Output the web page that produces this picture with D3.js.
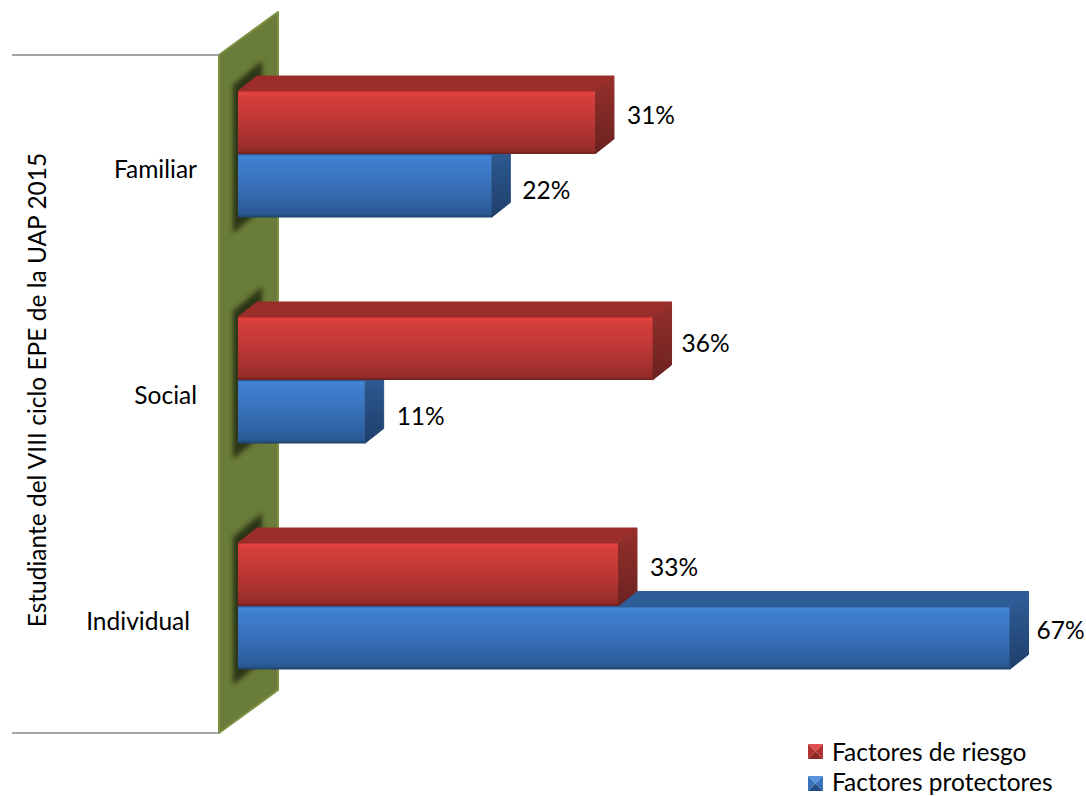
<!DOCTYPE html>
<html lang="es">
<head>
<meta charset="utf-8">
<script src="https://cdn.jsdelivr.net/npm/d3@7/dist/d3.min.js"></script>
<style>
html,body{margin:0;padding:0;background:#fff}
svg{display:block}
text{font-family:Lato,"Open Sans",sans-serif;fill:#000}
</style>
</head>
<body>
<svg id="chart" width="1086" height="796"></svg>
<script>
// Chart data
const categories = ["Familiar", "Social", "Individual"];
const riesgo = [31, 36, 33];
const protectores = [22, 11, 67];
const seriesNames = ["Factores de riesgo", "Factores protectores"];
const axisTitle = "Estudiante del VIII ciclo EPE de la UAP 2015";

const svg = d3.select("#chart");
const defs = svg.append("defs");
const fontSize = "24.5px";

// 3D projection of the depth axis
const depthX = 19, depthY = 15;
const wallDepthX = 59, wallDepthY = 43;

const x = d3.scaleLinear().domain([0, 67]).range([238, 1009.5]);
const y = d3.scaleBand().domain(categories).range([55, 733]);
const inner = d3.scaleBand().domain(seriesNames).range([36, 163]);

function linear(id, stops) {
  const g = defs.append("linearGradient").attr("id", id)
    .attr("x1", 0).attr("x2", 0).attr("y1", 0).attr("y2", 1);
  stops.forEach(s => g.append("stop").attr("offset", s[0]).attr("stop-color", s[1]));
}
linear("redFront", [[0, "#b03331"], [0.03, "#e8433f"], [0.09, "#d53e3a"], [0.3, "#ca3b38"], [0.75, "#a83230"], [0.95, "#932b29"], [1, "#6d1f1e"]]);
linear("blueFront", [[0, "#2f5f9c"], [0.03, "#4387d8"], [0.09, "#3f7fce"], [0.35, "#3b76c2"], [0.8, "#2f62a3"], [0.95, "#2a5790"], [1, "#1e4068"]]);
linear("redSide", [[0, "#96302c"], [1, "#6b2220"]]);
linear("blueSide", [[0, "#2f5f99"], [1, "#1f3f6b"]]);

defs.append("filter").attr("id", "soft").attr("x", "-60%").attr("y", "-20%").attr("width", "220%").attr("height", "140%")
  .append("feGaussianBlur").attr("stdDeviation", 2.6);

const palette = {
  [seriesNames[0]]: {front: "url(#redFront)", side: "url(#redSide)", top: "#9b2d2a"},
  [seriesNames[1]]: {front: "url(#blueFront)", side: "url(#blueSide)", top: "#2e5d97"}
};

const line = d3.line().curve(d3.curveLinearClosed);

// Back wall of the plot
const [wallTop, wallBottom] = y.range();
const wallLeft = 219, wallRight = wallLeft + wallDepthX;
const wallShape = [
  [wallLeft, wallTop], [wallRight, wallTop - wallDepthY],
  [wallRight, wallBottom - wallDepthY], [wallLeft, wallBottom]
];
defs.append("clipPath").attr("id", "wallClip").append("path").attr("d", line(wallShape));
svg.append("path").attr("d", line(wallShape))
  .attr("fill", "#6a7c39").attr("stroke", "#7c9240").attr("stroke-width", 2).attr("stroke-linejoin", "round");

// Gridlines at both ends of the category axis
svg.selectAll("line.grid").data(y.range()).join("line").attr("class", "grid")
  .attr("x1", 12).attr("x2", wallLeft).attr("y1", d => d).attr("y2", d => d)
  .attr("stroke", "#868686").attr("stroke-width", 1.4);

// Soft shadow each bar group casts on the wall
const shadows = svg.append("g").attr("clip-path", "url(#wallClip)");
categories.forEach(c => {
  const t = y(c) + 30, b = y(c) + 178;
  shadows.append("path")
    .attr("d", line([[233, t], [262, t - 24], [262, b - 24], [233, b]]))
    .attr("fill", "#2a3614").attr("filter", "url(#soft)");
});

// One bar drawn as front, top and side faces
function drawBar(g, category, series, value) {
  const p = palette[series];
  const x0 = x(0), x1 = x(value);
  const y0 = y(category) + inner(series), y1 = y0 + inner.bandwidth() - 0.5;
  const b = g.append("g").attr("class", "bar");
  b.append("path").attr("fill", p.top).attr("stroke", p.top).attr("stroke-width", 1).attr("stroke-linejoin", "round")
    .attr("d", line([[x0, y0], [x0 + depthX, y0 - depthY], [x1 + depthX, y0 - depthY], [x1, y0]]));
  b.append("path").attr("fill", p.side).attr("stroke", p.side).attr("stroke-width", 1).attr("stroke-linejoin", "round")
    .attr("d", line([[x1, y0], [x1 + depthX, y0 - depthY], [x1 + depthX, y1 - depthY], [x1, y1]]));
  b.append("rect").attr("x", x0).attr("y", y0).attr("width", x1 - x0).attr("height", y1 - y0)
    .attr("fill", p.front).attr("rx", 1.5);
}

const bars = svg.append("g");
categories.forEach((c, i) => {
  drawBar(bars, c, seriesNames[1], protectores[i]);
  drawBar(bars, c, seriesNames[0], riesgo[i]);
});

// Value labels beside the bars
const labels = svg.append("g").style("font-size", fontSize);
const labelNudge = {
  [seriesNames[0]]: [[32, -8], [29, -6], [32, -8]],
  [seriesNames[1]]: [[31, 3], [32, 3], [27, -9]]
};
[[seriesNames[0], riesgo], [seriesNames[1], protectores]].forEach(([name, vals]) => {
  vals.forEach((v, i) => {
    const c = categories[i];
    const n = labelNudge[name][i];
    labels.append("text")
      .attr("x", x(v) + n[0])
      .attr("y", y(c) + inner(name) + inner.bandwidth() / 2 + n[1])
      .attr("dominant-baseline", "central")
      .text(v + "%");
  });
});

// Category labels from the band scale
const axis = svg.append("g").attr("transform", "translate(197,2)")
  .call(d3.axisLeft(y).tickSize(0).tickPadding(0));
axis.select(".domain").remove();
axis.selectAll("text").style("font-size", fontSize).style("font-family", "Lato")
  .attr("fill", "#000")
  .attr("dx", d => d === "Individual" ? -7 : 0);

// Rotated axis title
svg.append("text")
  .attr("transform", "translate(36,390) rotate(-90)")
  .attr("text-anchor", "middle").attr("dominant-baseline", "central")
  .style("font-size", fontSize).text(axisTitle);

// Legend with bevelled swatches
const legendColors = {
  [seriesNames[0]]: ["#e0504c", "#b03331", "#8c2826"],
  [seriesNames[1]]: ["#5593de", "#3a72b8", "#234d85"]
};
const legend = svg.append("g");
seriesNames.forEach((name, i) => {
  const g = legend.append("g").attr("transform", `translate(808,${744 + i * 32})`);
  const s = 15, m = s / 2, cols = legendColors[name];
  [[[0, 0], [s, 0], [m, m]], [[s, 0], [s, s], [m, m]], [[s, s], [0, s], [m, m]], [[0, s], [0, 0], [m, m]]]
    .forEach((tri, k) => g.append("path").attr("d", line(tri)).attr("fill", [cols[0], cols[1], cols[2], cols[1]][k]));
  g.append("text").attr("x", 24).attr("y", m - 2 * i).attr("dominant-baseline", "central")
    .style("font-size", fontSize).text(name);
});
</script>
</body>
</html>
